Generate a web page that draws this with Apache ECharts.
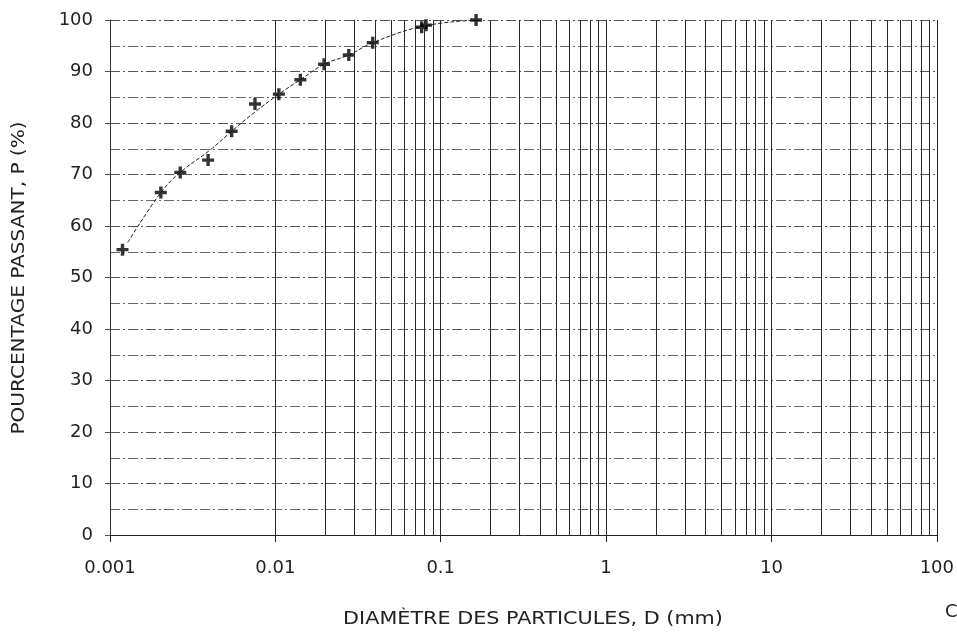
<!DOCTYPE html>
<html>
<head>
<meta charset="utf-8">
<script src="https://cdn.jsdelivr.net/npm/echarts@6/dist/echarts.min.js"></script>
<style>
html,body{margin:0;padding:0;background:#fff;}
#chart{width:957px;height:633px;}
</style>
</head>
<body>
<div id="chart"></div>
<script>
// Measured sample points (diameter mm, percent passing)
const sampleD = [0.00119, 0.00203, 0.00266, 0.00392, 0.00544, 0.00753, 0.0105, 0.01416, 0.0197, 0.0278, 0.0388, 0.0767, 0.0815, 0.1636];
const sampleP = [55.4, 66.5, 70.4, 72.8, 78.4, 83.7, 85.6, 88.4, 91.4, 93.2, 95.6, 98.6, 99.0, 100.0];
// Points
const curveD = [0.00128, 0.00203, 0.00266, 0.00408, 0.00544, 0.00757, 0.0105, 0.01416, 0.0197, 0.0278, 0.0388, 0.078, 0.1636];
const curveP = [56.8, 66.5, 70.4, 74.9, 78.4, 82.2, 85.6, 88.4, 91.4, 93.2, 95.6, 98.8, 100.0];
// Axis tick labels
const xTickLabels = ['0.001', '0.01', '0.1', '1', '10', '100'];
const yTickLabels = ['0', '10', '20', '30', '40', '50', '60', '70', '80', '90', '100'];
// Axis titles
const xTitle = 'DIAMÈTRE DES PARTICULES, D (mm)';
const yTitle = 'POURCENTAGE PASSANT, P (%)';
// Logarithmic grid: decades and multipliers
const gridDecades = [0.001, 0.01, 0.1, 1, 10];
const gridMultipliers = [1, 2, 3, 4, 5, 6, 7, 8, 9];

const vLines = [];
gridDecades.forEach(d => gridMultipliers.forEach(m => vLines.push({ xAxis: +(d * m).toPrecision(6) })));
vLines.push({ xAxis: 100 });

const FONT = '"DejaVu Sans", sans-serif';
const plusPath = 'path://M3.6,0H6.4V3.6H10V6.4H6.4V10H3.6V6.4H0V3.6H3.6Z';

const chart = echarts.init(document.getElementById('chart'), null, { renderer: 'canvas' });
chart.setOption({
  backgroundColor: '#fff',
  animation: false,
  grid: { left: 110, right: 19, top: 20, bottom: 98, containLabel: false },
  xAxis: {
    type: 'log',
    logBase: 10,
    min: 0.001,
    max: 100,
    splitNumber: 5,
    axisLine: { show: true, lineStyle: { color: '#222', width: 1 } },
    axisTick: { show: true, length: 7, lineStyle: { color: '#222' } },
    axisLabel: {
      margin: 24,
      fontFamily: FONT, fontSize: 18, color: '#222',
      formatter: v => xTickLabels[Math.round(Math.log10(v)) + 3] || ''
    },
    splitLine: { show: false },
    minorTick: { show: false },
    minorSplitLine: { show: false }
  },
  yAxis: {
    type: 'value',
    min: 0,
    max: 100,
    interval: 10,
    axisLine: { show: true, lineStyle: { color: '#333', width: 1 } },
    axisTick: { show: true, length: 5, lineStyle: { color: '#555' } },
    axisLabel: {
      margin: 17,
      fontFamily: FONT, fontSize: 18, color: '#222',
      formatter: v => yTickLabels[Math.round(v / 10)]
    },
    splitLine: { show: true, lineStyle: { color: '#555', width: 1, type: [10, 3, 2, 3] } },
    minorTick: { show: false, splitNumber: 2 },
    minorSplitLine: { show: true, lineStyle: { color: '#666', width: 1, type: [10, 3, 2, 3] } }
  },
  series: [
    {
      name: 'grid',
      type: 'line',
      data: [],
      silent: true,
      z: 1,
      markLine: {
        silent: true,
        symbol: ['none', 'none'],
        label: { show: false },
        lineStyle: { color: '#2a2a2a', width: 1, type: 'solid' },
        emphasis: { disabled: true },
        animation: false,
        data: vLines
      }
    },
    {
      name: 'courbe',
      type: 'line',
      data: curveD.map((d, i) => [d, curveP[i]]),
      smooth: 0.4,
      showSymbol: false,
      symbol: 'none',
      z: 3,
      lineStyle: { color: '#222', width: 1, type: [4, 2] }
    },
    {
      name: 'points',
      type: 'scatter',
      data: sampleD.map((d, i) => [d, sampleP[i]]),
      symbol: plusPath,
      symbolSize: 12,
      z: 4,
      itemStyle: { color: '#000' }
    }
  ],
  graphic: [
    {
      type: 'text',
      x: 533, y: 620,
      scaleX: 1.22,
      style: { text: xTitle, fontFamily: FONT, fontSize: 17, fill: '#222', align: 'center', verticalAlign: 'middle' }
    },
    {
      type: 'text',
      x: 20, y: 278,
      rotation: Math.PI / 2,
      scaleX: 1.18,
      style: { text: yTitle, fontFamily: FONT, fontSize: 17, fill: '#222', align: 'center', verticalAlign: 'middle' }
    },
    {
      type: 'text',
      left: 945,
      top: 603,
      style: { text: 'C', fontFamily: FONT, fontSize: 18, fill: '#222' }
    }
  ]
});
</script>
</body>
</html>
